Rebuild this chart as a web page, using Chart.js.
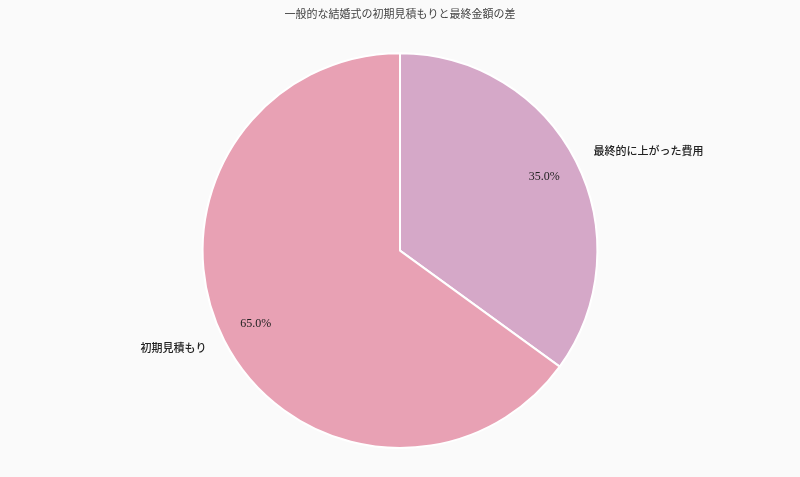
<!DOCTYPE html>
<html>
<head>
<meta charset="utf-8">
<script src="https://cdn.jsdelivr.net/npm/chart.js@4"></script>
<style>
html,body{margin:0;padding:0;background:#fafafa;}
#wrap{width:800px;height:477px;}
</style>
</head>
<body>
<div id="wrap"><canvas id="c" width="800" height="477"></canvas></div>
<script>
const titleText = '一般的な結婚式の初期見積もりと最終金額の差';
const categories = ['最終的に上がった費用', '初期見積もり'];
const values = [35.0, 65.0];
const colors = ['#d5a8c8', '#e8a1b4'];

const FONT = '"Liberation Serif", "DejaVu Serif", "Noto Sans CJK JP", serif';

const labelPlugin = {
  id: 'labels',
  afterDatasetsDraw(chart) {
    const ctx = chart.ctx;
    const meta = chart.getDatasetMeta(0);
    const total = values.reduce((a, b) => a + b, 0);
    meta.data.forEach((arc, i) => {
      const p = arc.getProps(['x', 'y', 'startAngle', 'endAngle', 'outerRadius'], true);
      const mid = (p.startAngle + p.endAngle) / 2;
      const r = p.outerRadius;
      ctx.save();
      ctx.fillStyle = '#222';
      ctx.textBaseline = 'middle';
      // percentage
      ctx.font = '12px ' + FONT;
      ctx.textAlign = 'center';
      const pr = r * 0.82;
      ctx.fillText((values[i] / total * 100).toFixed(1) + '%', p.x + Math.cos(mid) * pr, p.y + Math.sin(mid) * pr);
      // category label
      ctx.font = '500 11px ' + FONT;
      const lr = r * 1.1;
      const lx = p.x + Math.cos(mid) * lr;
      const ly = p.y + Math.sin(mid) * lr;
      ctx.textAlign = Math.cos(mid) >= 0 ? 'left' : 'right';
      ctx.fillText(categories[i], lx, ly);
      ctx.restore();
    });
  }
};

new Chart(document.getElementById('c'), {
  type: 'pie',
  data: {
    labels: categories,
    datasets: [{
      data: values,
      backgroundColor: colors,
      borderColor: '#ffffff',
      borderWidth: 2
    }]
  },
  options: {
    responsive: false,
    animation: false,
    layout: { padding: { top: 0, bottom: 28, left: 0, right: 0 } },
    plugins: {
      legend: { display: false },
      tooltip: { enabled: false },
      title: {
        display: true,
        text: titleText,
        color: '#444',
        font: { family: FONT, size: 11, weight: 'normal' },
        padding: { top: 9, bottom: 30 }
      }
    }
  },
  plugins: [labelPlugin]
});
</script>
</body>
</html>
